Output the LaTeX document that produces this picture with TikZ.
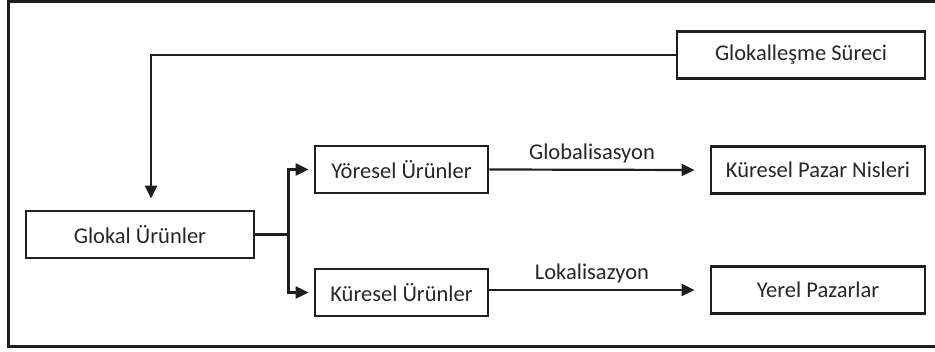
\documentclass[tikz,border=0pt]{standalone}
\usepackage{fontspec}
\setmainfont{Carlito}
\usetikzlibrary{arrows.meta}
\definecolor{ink}{HTML}{1E1E1E}
\definecolor{txt}{HTML}{262626}
\tikzset{
  box/.style={draw=ink, line width=2.8pt, rectangle, inner sep=0pt,
    minimum height=47pt, text=txt, font=\fontsize{22.5}{26}\selectfont},
  link/.style={draw=ink, line width=2.2pt},
  arr/.style={link, -{Triangle[length=13pt,width=12pt]}},
  lbl/.style={text=txt, font=\fontsize{22.5}{26}\selectfont, inner sep=0pt}
}
\begin{document}
\begin{tikzpicture}[x=1pt, y=-1pt]
  \useasboundingbox (0,0) rectangle (935,352);
  % outer frame, open on the right
  \draw[ink, line width=3pt] (935,1.5) -- (8,1.5) -- (8,347) -- (935,347);

  \node[box, minimum width=248pt] (gs)  at (801,55)    {Glokalleşme Süreci};
  \node[box, minimum width=228pt] (gl)  at (140,234.5) {Glokal Ürünler};
  \node[box, minimum width=173pt] (yo)  at (401.5,169.5) {Yöresel Ürünler};
  \node[box, minimum width=173pt] (ku)  at (401.5,292.5) {Küresel Ürünler};
  \node[box, minimum width=214pt] (kpn) at (818,170)   {Küresel Pazar Nisleri};
  \node[box, minimum width=214pt] (yp)  at (818,290)   {Yerel Pazarlar};

  % process feeding the glocal products
  \draw[arr, shorten >=11pt] (gs.west) -| ([xshift=11pt]gl.north);

  % split into the two product groups
  \draw[link] (gl.east) -- ++(33,0) coordinate (split);
  \draw[arr, shorten >=5pt] (split) |- (yo.west);
  \draw[arr, shorten >=5pt] (split) |- (ku.west);

  % market directions
  \draw[arr] (yo.east) -- ([xshift=-15pt]kpn.west)
    node[lbl, midway, above=6pt] {Globalisasyon};
  \draw[arr] (ku.east |- yp.west) -- ([xshift=-15pt]yp.west)
    node[lbl, midway, above=6pt] {Lokalisazyon};
\end{tikzpicture}
\end{document}
